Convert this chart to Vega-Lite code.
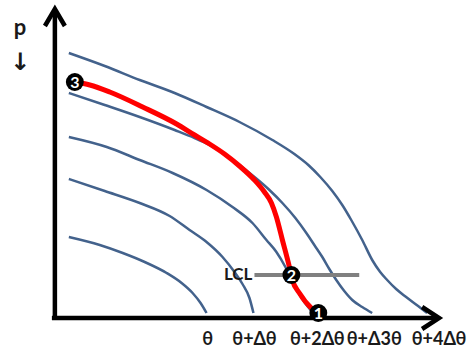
{
  "$schema": "https://vega.github.io/schema/vega-lite/v6.json",
  "width": 467,
  "height": 353,
  "autosize": {"type": "fit", "contains": "padding"},
  "padding": 0,
  "background": "white",
  "config": {"view": {"stroke": null}},
  "datasets": {
    "curves": [
      {"c": "A", "x": 14, "y": 265}, {"c": "A", "x": 50, "y": 252}, {"c": "A", "x": 85, "y": 238}, {"c": "A", "x": 120, "y": 225}, {"c": "A", "x": 152, "y": 211}, {"c": "A", "x": 185, "y": 196}, {"c": "A", "x": 218, "y": 178}, {"c": "A", "x": 240, "y": 164}, {"c": "A", "x": 254, "y": 153}, {"c": "A", "x": 266, "y": 141}, {"c": "A", "x": 278, "y": 127}, {"c": "A", "x": 288, "y": 113}, {"c": "A", "x": 297, "y": 98}, {"c": "A", "x": 308, "y": 78}, {"c": "A", "x": 318, "y": 58}, {"c": "A", "x": 326, "y": 46}, {"c": "A", "x": 333, "y": 38}, {"c": "A", "x": 342, "y": 29}, {"c": "A", "x": 352, "y": 21}, {"c": "A", "x": 364, "y": 12}, {"c": "A", "x": 373, "y": 5},
      {"c": "B", "x": 14, "y": 225}, {"c": "B", "x": 50, "y": 213}, {"c": "B", "x": 85, "y": 201}, {"c": "B", "x": 120, "y": 188}, {"c": "B", "x": 140, "y": 180}, {"c": "B", "x": 155, "y": 173}, {"c": "B", "x": 170, "y": 164}, {"c": "B", "x": 185, "y": 153}, {"c": "B", "x": 200, "y": 141}, {"c": "B", "x": 215, "y": 128}, {"c": "B", "x": 228, "y": 115}, {"c": "B", "x": 241, "y": 100}, {"c": "B", "x": 252, "y": 85}, {"c": "B", "x": 260, "y": 73}, {"c": "B", "x": 268, "y": 61}, {"c": "B", "x": 275, "y": 49}, {"c": "B", "x": 282, "y": 38}, {"c": "B", "x": 290, "y": 27}, {"c": "B", "x": 298, "y": 18}, {"c": "B", "x": 308, "y": 11}, {"c": "B", "x": 318, "y": 5},
      {"c": "C", "x": 14, "y": 181}, {"c": "C", "x": 52, "y": 171}, {"c": "C", "x": 85, "y": 158}, {"c": "C", "x": 118, "y": 145}, {"c": "C", "x": 152, "y": 128}, {"c": "C", "x": 178, "y": 111}, {"c": "C", "x": 198, "y": 95}, {"c": "C", "x": 212, "y": 78}, {"c": "C", "x": 222, "y": 66}, {"c": "C", "x": 231, "y": 51}, {"c": "C", "x": 240, "y": 32}, {"c": "C", "x": 250, "y": 16}, {"c": "C", "x": 258, "y": 6},
      {"c": "D", "x": 14, "y": 139}, {"c": "D", "x": 50, "y": 127}, {"c": "D", "x": 85, "y": 115}, {"c": "D", "x": 115, "y": 102}, {"c": "D", "x": 135, "y": 88}, {"c": "D", "x": 152, "y": 76}, {"c": "D", "x": 168, "y": 61}, {"c": "D", "x": 180, "y": 46}, {"c": "D", "x": 188, "y": 34}, {"c": "D", "x": 195, "y": 20}, {"c": "D", "x": 199, "y": 5},
      {"c": "E", "x": 14, "y": 81}, {"c": "E", "x": 45, "y": 73}, {"c": "E", "x": 68, "y": 65}, {"c": "E", "x": 90, "y": 56}, {"c": "E", "x": 112, "y": 45}, {"c": "E", "x": 127, "y": 35}, {"c": "E", "x": 138, "y": 25}, {"c": "E", "x": 146, "y": 15}, {"c": "E", "x": 152, "y": 5}
    ],
    "path": [
      {"x": 20, "y": 236}, {"x": 35, "y": 233}, {"x": 55, "y": 226}, {"x": 88, "y": 211}, {"x": 122, "y": 194}, {"x": 140, "y": 183}, {"x": 155, "y": 174}, {"x": 170, "y": 164}, {"x": 185, "y": 152}, {"x": 200, "y": 138}, {"x": 210, "y": 126}, {"x": 217, "y": 115}, {"x": 222, "y": 101}, {"x": 228, "y": 78}, {"x": 235, "y": 51}, {"x": 238, "y": 38}, {"x": 245, "y": 25}, {"x": 257, "y": 10}, {"x": 264, "y": 5}
    ],
    "axes": [
      {"g": "yaxis", "x": 0, "y": 0}, {"g": "yaxis", "x": 0, "y": 306},
      {"g": "yhead", "x": -10, "y": 292}, {"g": "yhead", "x": 0, "y": 309}, {"g": "yhead", "x": 10, "y": 292},
      {"g": "xaxis", "x": -3, "y": 0}, {"g": "xaxis", "x": 382, "y": 0},
      {"g": "xhead", "x": 368, "y": 11}, {"g": "xhead", "x": 385, "y": 0}, {"g": "xhead", "x": 368, "y": -11}
    ],
    "lcl": [{"x": 200, "x2": 305, "y": 43}],
    "states": [
      {"n": "3", "x": 20, "y": 236},
      {"n": "2", "x": 237, "y": 43},
      {"n": "1", "x": 264, "y": 5}
    ],
    "labels": [
      {"t": "θ", "x": 153, "y": -22},
      {"t": "θ+Δθ", "x": 200, "y": -22},
      {"t": "θ+2Δθ", "x": 263, "y": -22},
      {"t": "θ+Δ3θ", "x": 320, "y": -22},
      {"t": "θ+4Δθ", "x": 385, "y": -22}
    ]
  },
  "encoding": {
    "x": {"field": "x", "type": "quantitative", "scale": {"domain": [-55, 412], "nice": false, "zero": false}, "axis": null},
    "y": {"field": "y", "type": "quantitative", "scale": {"domain": [-35, 318], "nice": false, "zero": false}, "axis": null}
  },
  "layer": [
    {
      "data": {"name": "curves"},
      "mark": {"type": "line", "color": "#43628c", "strokeWidth": 2.5, "interpolate": "monotone"},
      "encoding": {"detail": {"field": "c"}, "order": {"value": null}}
    },
    {
      "data": {"name": "path"},
      "mark": {"type": "line", "color": "#ff0000", "strokeWidth": 5, "strokeCap": "round", "interpolate": "monotone"},
      "encoding": {"order": {"value": null}}
    },
    {
      "data": {"name": "lcl"},
      "mark": {"type": "rule", "color": "#808080", "strokeWidth": 4},
      "encoding": {"x2": {"field": "x2"}}
    },
    {
      "data": {"name": "axes"},
      "mark": {"type": "line", "color": "black", "strokeWidth": 4.5, "strokeJoin": "miter"},
      "encoding": {"detail": {"field": "g"}, "order": {"value": null}}
    },
    {
      "data": {"name": "states"},
      "mark": {"type": "point", "filled": true, "color": "black", "opacity": 1, "size": 320, "shape": "circle"}
    },
    {
      "data": {"name": "states"},
      "mark": {"type": "text", "color": "white", "font": "Lato", "fontWeight": "bold", "fontSize": 16, "baseline": "middle", "align": "center", "dy": 1},
      "encoding": {"text": {"field": "n"}}
    },
    {
      "data": {"name": "labels"},
      "mark": {"type": "text", "color": "#1a1a1a", "font": "Lato", "fontWeight": "bold", "fontSize": 18, "baseline": "middle", "align": "center"},
      "encoding": {"text": {"field": "t"}}
    },
    {
      "data": {"values": [{"t": "LCL", "x": 198, "y": 43}]},
      "mark": {"type": "text", "color": "#1a1a1a", "font": "Lato", "fontWeight": "bold", "fontSize": 17, "baseline": "middle", "align": "right"},
      "encoding": {"text": {"field": "t"}}
    },
    {
      "data": {"values": [{"t": "p", "x": -35, "y": 290}]},
      "mark": {"type": "text", "color": "#1a1a1a", "font": "Lato", "fontWeight": "bold", "fontSize": 22, "baseline": "middle", "align": "center"},
      "encoding": {"text": {"field": "t"}}
    },
    {
      "data": {"values": [{"t": "↓", "x": -35, "y": 255}]},
      "mark": {"type": "text", "color": "#1a1a1a", "font": "DejaVu Sans", "fontWeight": "bold", "fontSize": 24, "baseline": "middle", "align": "center"},
      "encoding": {"text": {"field": "t"}}
    }
  ]
}
